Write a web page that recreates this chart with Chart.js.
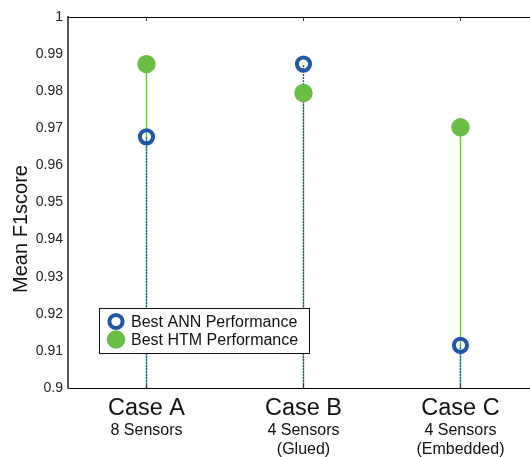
<!DOCTYPE html>
<html>
<head>
<meta charset="utf-8">
<script src="https://cdn.jsdelivr.net/npm/chart.js@4"></script>
<style>
html,body{margin:0;padding:0;background:#fff;overflow:hidden;}
#wrap{width:530px;height:457px;position:relative;}
</style>
</head>
<body>
<div id="wrap"><canvas id="c" width="530" height="457"></canvas></div>
<script>
const categories = ["Case A", "Case B", "Case C"];
const subLabels = [["8 Sensors"], ["4 Sensors", "(Glued)"], ["4 Sensors", "(Embedded)"]];
const annValues = [0.9677, 0.9873, 0.9115];
const htmValues = [0.9873, 0.9795, 0.9703];
const yTicks = [0.9, 0.91, 0.92, 0.93, 0.94, 0.95, 0.96, 0.97, 0.98, 0.99, 1];
const seriesNames = ["Best ANN Performance", "Best HTM Performance"];

const GREEN = '#6abd45';
const BLUE = '#1f56a6';
const STEM_BLUE = '#1d5a98';
const FONT = '"Liberation Sans", Arial, sans-serif';
const YMIN = 0.9;

const datasets = [];
// stems
htmValues.forEach((v, i) => {
  datasets.push({
    type: 'line', data: [{x: i + 1, y: YMIN}, {x: i + 1, y: v}],
    borderColor: GREEN, borderWidth: 1.3, pointRadius: 0, fill: false, order: 5
  });
});
annValues.forEach((v, i) => {
  datasets.push({
    type: 'line', data: [{x: i + 1, y: YMIN}, {x: i + 1, y: v}],
    borderColor: STEM_BLUE, borderWidth: 1.3, borderDash: [2, 1], pointRadius: 0, fill: false, order: 4
  });
});
// markers
datasets.push({
  type: 'scatter', label: seriesNames[1],
  data: htmValues.map((v, i) => ({x: i + 1, y: v})),
  pointRadius: 9.2, pointBackgroundColor: GREEN, pointBorderColor: GREEN, pointBorderWidth: 0, order: 2
});
datasets.push({
  type: 'scatter', label: seriesNames[0],
  data: annValues.map((v, i) => ({x: i + 1, y: v})),
  pointRadius: 6.6, pointBackgroundColor: 'rgba(255,255,255,0)', pointBorderColor: BLUE, pointBorderWidth: 4, order: 1
});

const decor = {
  id: 'decor',
  afterDraw(chart) {
    const ctx = chart.ctx;
    const xs = chart.scales.x;
    const ca = chart.chartArea;
    ctx.save();
    ctx.strokeStyle = '#000';
    ctx.lineWidth = 1;
    ctx.beginPath();
    ctx.moveTo(ca.left, ca.top + 0.5);
    ctx.lineTo(ca.right, ca.top + 0.5);
    ctx.stroke();
    ctx.strokeStyle = '#333';
    categories.forEach((c, i) => {
      const px = Math.round(xs.getPixelForValue(i + 1)) + 0.5;
      ctx.beginPath();
      ctx.moveTo(px, ca.top); ctx.lineTo(px, ca.top + 4);
      ctx.moveTo(px, ca.bottom); ctx.lineTo(px, ca.bottom - 4);
      ctx.stroke();
    });
    ctx.fillStyle = '#111';
    ctx.textAlign = 'center';
    ctx.textBaseline = 'alphabetic';
    categories.forEach((c, i) => {
      const px = xs.getPixelForValue(i + 1);
      ctx.font = '23.5px ' + FONT;
      ctx.fillText(c, px, 415);
      ctx.font = '16px ' + FONT;
      subLabels[i].forEach((s, j) => ctx.fillText(s, px, 435 + j * 18.5));
    });
    ctx.save();
    ctx.translate(27, 229);
    ctx.rotate(-Math.PI / 2);
    ctx.font = '20px ' + FONT;
    ctx.fillStyle = '#111';
    ctx.textAlign = 'center';
    ctx.fillText('Mean F1score', 0, 0);
    ctx.restore();
    const lx = 99, ly = 308, lw = 210, lh = 45;
    ctx.fillStyle = '#fff';
    ctx.fillRect(lx, ly, lw, lh);
    ctx.strokeStyle = '#111';
    ctx.lineWidth = 1;
    ctx.strokeRect(lx + 0.5, ly + 0.5, lw, lh);
    ctx.beginPath();
    ctx.arc(116, 321.5, 6.6, 0, Math.PI * 2);
    ctx.strokeStyle = BLUE; ctx.lineWidth = 4; ctx.stroke();
    ctx.beginPath();
    ctx.arc(116, 339.5, 9.2, 0, Math.PI * 2);
    ctx.fillStyle = GREEN; ctx.fill();
    ctx.fillStyle = '#111';
    ctx.font = '16px ' + FONT;
    ctx.textAlign = 'left';
    ctx.fillText(seriesNames[0], 131, 327);
    ctx.fillText(seriesNames[1], 131, 345);
    ctx.restore();
  }
};

new Chart(document.getElementById('c'), {
  type: 'scatter',
  data: {datasets},
  options: {
    responsive: false,
    animation: false,
    layout: {autoPadding: false, padding: {top: 17, right: 0, left: 0, bottom: 0}},
    plugins: {legend: {display: false}, tooltip: {enabled: false}},
    scales: {
      x: {
        type: 'linear', min: 0.5, max: 3.443,
        grid: {display: false, drawTicks: false},
        border: {display: true, color: '#000', width: 1},
        ticks: {display: false},
        afterFit(s) { s.height = 69; }
      },
      y: {
        type: 'linear', min: YMIN, max: 1,
        grid: {display: false, drawTicks: false},
        border: {display: true, color: '#555', width: 2},
        afterBuildTicks(s) { s.ticks = yTicks.map(v => ({value: v})); },
        ticks: {
          color: '#222', padding: 5,
          font: {family: FONT, size: 14},
          callback: v => String(Math.round(v * 100) / 100)
        },
        afterFit(s) { s.width = 68; }
      }
    }
  },
  plugins: [decor]
});
</script>
</body>
</html>
